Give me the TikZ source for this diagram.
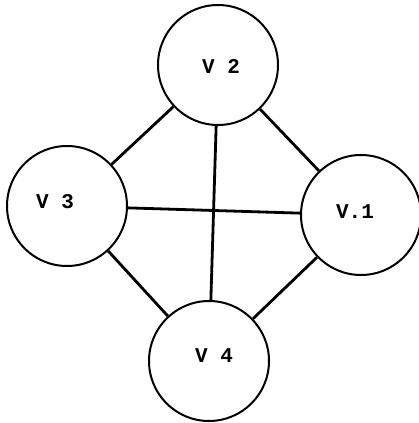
\documentclass[tikz,border=0pt]{standalone}
\usepackage{fontspec}
\setmonofont{Liberation Mono}
\usepackage{tikz}
\usetikzlibrary{calc}

\tikzset{
  vertex/.style={circle, draw=black, line width=2pt, minimum size=120pt, inner sep=0pt},
  vlabel/.style={font=\ttfamily\bfseries\fontsize{21}{21}\selectfont, inner sep=0pt},
  edge/.style={draw=black, line width=2.8pt}
}

\begin{document}
\begin{tikzpicture}[x=1pt, y=-1pt]
                \useasboundingbox (0,0) rectangle (419,423);
                \node[vertex] (v2) at (218,65) {};
                \node[vertex] (v3) at (67,206) {};
                \node[vertex] (v1) at (361,215) {};
                \node[vertex] (v4) at (209,361) {};
                \node[vlabel] (l2) at (221,66) {V 2};
                \node[vlabel] (l3) at (55,202) {V 3};
                \node[vlabel] (l1) at (355,212) {V.1};
                \node[vlabel] (l4) at (214,356) {V 4};
                \draw[edge] (v2) -- (v3);
                \draw[edge] (v2) -- (v1);
                \draw[edge] (v2) -- (v4);
                \draw[edge] (v3) -- (v1);
                \draw[edge] (v3) -- (v4);
                \draw[edge] (v4) -- (v1);
            \end{tikzpicture}
\end{document}
